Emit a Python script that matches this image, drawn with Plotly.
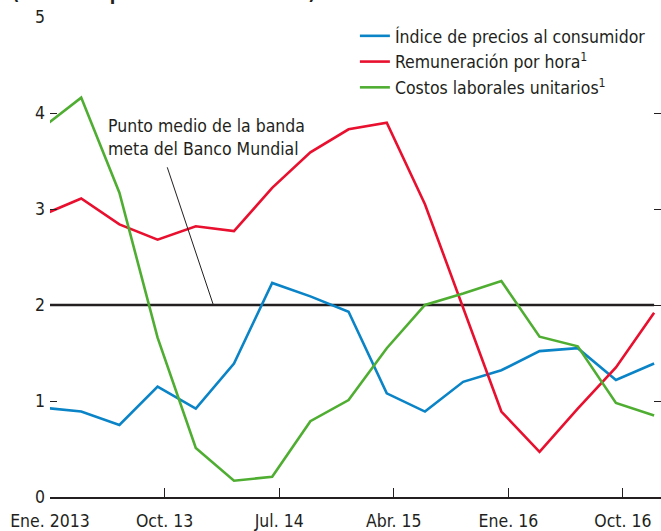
import plotly.graph_objects as go

quarters = list(range(17))  # trimestres desde 2013 T1 hasta 2017 T1
ipc = [0.93, 0.89, 0.75, 1.15, 0.92, 1.39, 2.23, 2.09, 1.93, 1.08, 0.89, 1.20, 1.32, 1.52, 1.55, 1.22, 1.39]
remuneracion = [2.94, 3.11, 2.84, 2.68, 2.82, 2.77, 3.22, 3.59, 3.83, 3.90, 3.05, 1.96, 0.89, 0.47, 0.92, 1.35, 1.92]
costos = [3.85, 4.16, 3.17, 1.66, 0.51, 0.17, 0.21, 0.79, 1.01, 1.55, 2.00, 2.12, 2.25, 1.67, 1.57, 0.98, 0.85]
meta = [2.0] * 17

tick_labels = ["Ene. 2013", "Oct. 13", "Jul. 14", "Abr. 15", "Ene. 16", "Oct. 16"]
tick_offset = 0.183
tick_vals = [tick_offset + 3 * i for i in range(len(tick_labels))]

FONT = "DejaVu Sans Condensed, Liberation Sans Narrow, sans-serif"
TXT = "#231f20"
FS = 17.5

fig = go.Figure()
fig.add_trace(go.Scatter(x=[-1] + quarters, y=[2.0] + meta, mode="lines",
                         line=dict(color="#231f20", width=2.5), showlegend=False, hoverinfo="skip"))
fig.add_trace(go.Scatter(x=quarters, y=ipc, mode="lines", name="Índice de precios al consumidor",
                         line=dict(color="#0a84c6", width=2.6)))
fig.add_trace(go.Scatter(x=quarters, y=remuneracion, mode="lines", name="Remuneración por hora<sup>1</sup>",
                         line=dict(color="#e8102e", width=2.6)))
fig.add_trace(go.Scatter(x=quarters, y=costos, mode="lines", name="Costos laborales unitarios<sup>1</sup>",
                         line=dict(color="#4fae32", width=2.6)))

fig.update_layout(
    width=661, height=531,
    margin=dict(l=50, r=0, t=17, b=34, autoexpand=False),
    paper_bgcolor="white", plot_bgcolor="white",
    font=dict(family=FONT, size=FS, color=TXT),
    showlegend=True,
    legend=dict(x=0.499, y=0.998, xanchor="left", yanchor="top",
                bgcolor="rgba(0,0,0,0)", font=dict(size=FS, family=FONT, color=TXT),
                tracegroupgap=0, itemwidth=30),
    xaxis=dict(range=[tick_offset, 16.18], tickvals=tick_vals, ticktext=tick_labels,
               ticks="inside", ticklen=9, tickwidth=1.2, tickcolor=TXT, automargin=False,
               showline=True, linecolor=TXT, linewidth=1.5, showgrid=False, zeroline=False,
               ticklabelstandoff=7,
               tickfont=dict(size=FS, family=FONT, color=TXT)),
    yaxis=dict(range=[0, 5], tickvals=[0, 1, 2, 3, 4, 5], ticks="inside", ticklen=7,
               tickwidth=1.2, tickcolor=TXT, showline=False, mirror="ticks", automargin=False,
               showgrid=False, zeroline=False, ticklabelstandoff=4,
               tickfont=dict(size=FS, family=FONT, color=TXT)),
)

fig.add_annotation(x=1.66, y=3.745, xref="x", yref="y", xanchor="left", yanchor="middle",
                   text="Punto medio de la banda<br>meta del Banco Mundial", showarrow=False,
                   align="left", font=dict(size=FS, family=FONT, color=TXT))
fig.add_annotation(x=4.46, y=2.0, xref="x", yref="y", ax=3.24, ay=3.45, axref="x", ayref="y",
                   text="", showarrow=True, arrowhead=0, arrowwidth=1, arrowcolor=TXT)
fig.add_annotation(x=-0.065, y=1, xref="paper", yref="paper", xanchor="left", yanchor="bottom",
                   yshift=11, text="<b>(Variación porcentual interanual)</b>", showarrow=False,
                   font=dict(size=18, family=FONT, color=TXT))

fig.write_html("out.html", config={"displayModeBar": False},
               post_script="document.body.style.margin='0';")
